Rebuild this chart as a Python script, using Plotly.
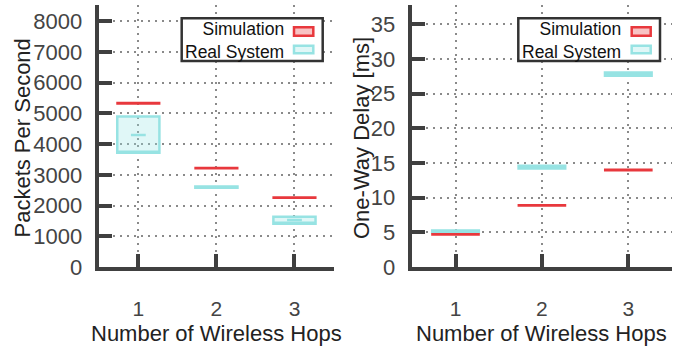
import plotly.graph_objects as go

# ---------------- data ----------------
hops = [1, 2, 3]
hop_labels = ["1", "2", "3"]

# Packets per second (box: low / median / high)
pps_sim_low = [5315, 3210, 2250]
pps_sim_med = [5330, 3220, 2260]
pps_sim_high = [5345, 3230, 2270]

pps_real_low = [3720, 2580, 1410]
pps_real_med = [4300, 2600, 1530]
pps_real_high = [4900, 2620, 1640]

# One-way delay [ms]
delay_sim_low = [4.65, 8.85, 13.93]
delay_sim_med = [4.7, 8.9, 14.0]
delay_sim_high = [4.75, 8.95, 14.07]

delay_real_low = [5.0, 14.2, 27.6]
delay_real_med = [5.1, 14.4, 27.8]
delay_real_high = [5.25, 14.6, 28.05]

series_names = ["Simulation", "Real System"]
pps_ticks = [0, 1000, 2000, 3000, 4000, 5000, 6000, 7000, 8000]
delay_ticks = [0, 5, 10, 15, 20, 25, 30, 35]

# ---------------- style ----------------
W, H = 683, 347
RED = "#e8383d"
RED_FILL = "rgba(232,56,61,0.30)"
CYAN = "#97e3e3"
CYAN_FILL = "rgba(151,227,227,0.30)"
AX = "#404040"
GRID = "#8a8a8a"
FONT = "Liberation Sans, Arial, Helvetica, sans-serif"
BOXW = 0.54
MEDW = 0.19


def px(x):
    return x / W


def py(y):
    return 1 - y / H


fig = go.Figure()


def add_boxes(xa, ya, low, med, high, color, fill, name, median_line, lw):
    fig.add_trace(go.Box(
        x=hops, q1=low, median=low, q3=high, lowerfence=low, upperfence=high,
        width=BOXW, whiskerwidth=0, boxpoints=False, name=name,
        line=dict(color=color, width=lw), fillcolor=fill,
        xaxis=xa, yaxis=ya, showlegend=False, hoverinfo="skip"))
    if median_line:
        fig.add_trace(go.Box(
            x=hops, q1=med, median=med, q3=med, lowerfence=med, upperfence=med,
            width=MEDW, whiskerwidth=0, boxpoints=False, name=name + " median",
            line=dict(color=color, width=lw), fillcolor=fill,
            xaxis=xa, yaxis=ya, showlegend=False, hoverinfo="skip"))


add_boxes("x", "y", pps_real_low, pps_real_med, pps_real_high, CYAN, CYAN_FILL, series_names[1], True, 2.5)
add_boxes("x", "y", pps_sim_low, pps_sim_med, pps_sim_high, RED, RED_FILL, series_names[0], False, 2)
add_boxes("x2", "y2", delay_real_low, delay_real_med, delay_real_high, CYAN, CYAN_FILL, series_names[1], True, 2.5)
add_boxes("x2", "y2", delay_sim_low, delay_sim_med, delay_sim_high, RED, RED_FILL, series_names[0], False, 2)

common_x = dict(
    range=[0.5, 3.5], tickmode="array", tickvals=hops, ticktext=hop_labels,
    ticks="inside", ticklen=13, tickwidth=3.5, tickcolor=AX,
    showline=True, linecolor=AX, linewidth=3.5,
    showgrid=True, gridcolor=GRID, gridwidth=1.6, griddash="2px,5px",
    zeroline=False, ticklabelstandoff=20,
    tickfont=dict(family=FONT, size=21, color="#444444"),
)
common_y = dict(
    ticks="inside", ticklen=13, tickwidth=3.5, tickcolor=AX,
    showline=True, linecolor=AX, linewidth=3.5,
    showgrid=True, gridcolor=GRID, gridwidth=1.6, griddash="2px,5px",
    zeroline=False, ticklabelstandoff=9,
    tickfont=dict(family=FONT, size=22, color="#444444"),
)

ydom = [py(267), py(5)]
fig.update_layout(
    width=W, height=H, margin=dict(l=0, r=0, t=0, b=0, autoexpand=False),
    paper_bgcolor="white", plot_bgcolor="white",
    boxmode="overlay", showlegend=False,
    xaxis=dict(domain=[px(99.3), px(333.5)], anchor="y", **common_x),
    yaxis=dict(domain=ydom, anchor="x", range=[0, 8530],
               tickvals=pps_ticks, **common_y),
    xaxis2=dict(domain=[px(412.3), px(671.5)], anchor="y2", **common_x),
    yaxis2=dict(domain=ydom, anchor="x2", range=[0, 37.8],
                tickvals=delay_ticks, **common_y),
    font=dict(family=FONT, color="#222222"),
)

TF = dict(size=22, family=FONT, color="#222222")
ann = []
ann.append(dict(text="Number of Wireless Hops", x=px(216.3), y=py(333),
                xref="paper", yref="paper", showarrow=False, font=TF,
                xanchor="center", yanchor="middle"))
ann.append(dict(text="Number of Wireless Hops", x=px(541.2), y=py(333),
                xref="paper", yref="paper", showarrow=False, font=TF,
                xanchor="center", yanchor="middle"))
ann.append(dict(text="Packets Per Second", x=px(22), y=py(138.5),
                xref="paper", yref="paper", showarrow=False, textangle=-90,
                font=TF, xanchor="center", yanchor="middle"))
ann.append(dict(text="One-Way Delay [ms]", x=px(361), y=py(138),
                xref="paper", yref="paper", showarrow=False, textangle=-90,
                font=TF, xanchor="center", yanchor="middle"))

shapes = []


def legend(box_x0, box_x1, text_right, sym_x0, sym_x1):
    shapes.append(dict(type="rect", xref="paper", yref="paper",
                       x0=px(box_x0), x1=px(box_x1), y0=py(61), y1=py(18.3),
                       line=dict(color="#333333", width=2.5), fillcolor="white",
                       layer="above"))
    rows = [(27.3, 35.7, RED, RED_FILL),
            (45.7, 53.3, CYAN, CYAN_FILL)]
    for y0, y1, col, fill in rows:
        shapes.append(dict(type="rect", xref="paper", yref="paper",
                           x0=px(sym_x0), x1=px(sym_x1), y0=py(y1), y1=py(y0),
                           line=dict(color=col, width=2.5), fillcolor=fill,
                           layer="above"))
    ann.append(dict(text="<br>".join(series_names), x=px(text_right), y=py(40.8),
                    xref="paper", yref="paper", showarrow=False,
                    xanchor="right", yanchor="middle", align="right",
                    font=dict(size=17.5, family=FONT, color="#111111")))


legend(181.7, 322.7, 286, 294, 313.3)
legend(518.3, 660, 622.5, 631.7, 650.7)

fig.update_layout(annotations=ann, shapes=shapes)
fig.write_html("out.html", config={"displayModeBar": False},
               post_script="document.body.style.margin='0';document.body.style.overflow='hidden';")
